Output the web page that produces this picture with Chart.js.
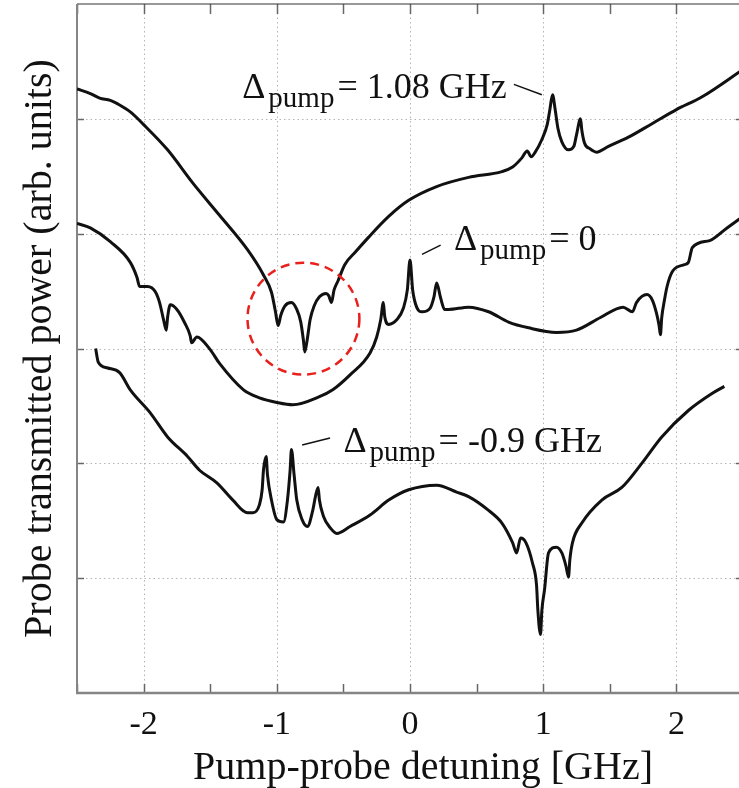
<!DOCTYPE html>
<html>
<head>
<meta charset="utf-8">
<script src="https://cdn.jsdelivr.net/npm/chart.js@4.4.1/dist/chart.umd.min.js"></script>
<style>
html, body { margin: 0; padding: 0; background: #fff; overflow: hidden; }
#wrap { width: 743px; height: 788px; }
</style>
</head>
<body>
<div id="wrap"><canvas id="chart" width="743" height="788"></canvas></div>
<script>
// 曲線資料 (x: 失諧 GHz, y: 任意單位)
// Δpump = 1.08 GHz
var xA = [-2.50, -2.40, -2.33, -2.25, -2.18, -2.10, -2.00, -1.82, -1.63, -1.43, -1.22, -1.10, -1.04, -1.01, -0.99, -0.97, -0.94, -0.89, -0.85, -0.82, -0.80, -0.79, -0.77, -0.75, -0.72, -0.68, -0.63, -0.61, -0.59, -0.57, -0.54, -0.49, -0.41, -0.31, -0.16, -0.01, 0.20, 0.44, 0.69, 0.77, 0.84, 0.88, 0.91, 0.94, 0.99, 1.03, 1.05, 1.07, 1.09, 1.11, 1.14, 1.19, 1.23, 1.25, 1.28, 1.29, 1.31, 1.35, 1.40, 1.49, 1.64, 1.82, 2.00, 2.19, 2.50];
var yA = [5.26, 5.22, 5.18, 5.16, 5.12, 5.06, 4.95, 4.73, 4.44, 4.16, 3.86, 3.64, 3.49, 3.32, 3.20, 3.29, 3.37, 3.40, 3.34, 3.23, 3.07, 2.97, 3.09, 3.25, 3.37, 3.45, 3.48, 3.46, 3.40, 3.51, 3.59, 3.73, 3.84, 3.97, 4.15, 4.29, 4.41, 4.49, 4.54, 4.58, 4.66, 4.72, 4.67, 4.71, 4.82, 4.95, 5.08, 5.21, 5.08, 4.92, 4.80, 4.73, 4.76, 4.86, 5.00, 4.90, 4.79, 4.74, 4.71, 4.76, 4.84, 4.96, 5.08, 5.19, 5.43];

// Δpump = 0
var xB = [-2.50, -2.40, -2.25, -2.10, -2.05, -2.03, -1.97, -1.91, -1.88, -1.85, -1.83, -1.82, -1.80, -1.75, -1.69, -1.65, -1.64, -1.60, -1.50, -1.43, -1.25, -1.13, -1.00, -0.88, -0.68, -0.58, -0.45, -0.30, -0.25, -0.22, -0.20, -0.19, -0.16, -0.10, -0.05, -0.02, 0.00, 0.02, 0.05, 0.09, 0.15, 0.18, 0.20, 0.23, 0.26, 0.29, 0.44, 0.59, 0.74, 0.89, 1.10, 1.25, 1.43, 1.60, 1.67, 1.70, 1.78, 1.82, 1.85, 1.87, 1.88, 1.89, 1.91, 1.93, 1.97, 2.06, 2.09, 2.12, 2.25, 2.38, 2.50];
var yB = [4.09, 4.05, 3.93, 3.75, 3.62, 3.54, 3.54, 3.49, 3.40, 3.25, 3.16, 3.27, 3.38, 3.34, 3.22, 3.11, 3.05, 3.10, 2.99, 2.87, 2.64, 2.57, 2.53, 2.51, 2.58, 2.64, 2.77, 2.96, 3.10, 3.25, 3.40, 3.28, 3.21, 3.25, 3.35, 3.51, 3.77, 3.51, 3.36, 3.32, 3.35, 3.45, 3.57, 3.44, 3.34, 3.34, 3.36, 3.32, 3.23, 3.18, 3.14, 3.16, 3.27, 3.36, 3.32, 3.40, 3.47, 3.42, 3.31, 3.20, 3.12, 3.27, 3.42, 3.54, 3.67, 3.73, 3.75, 3.88, 3.94, 4.05, 4.15];

// Δpump = -0.9 GHz
var xC = [-2.36, -2.34, -2.27, -2.18, -2.10, -1.95, -1.82, -1.67, -1.58, -1.45, -1.33, -1.22, -1.18, -1.13, -1.11, -1.10, -1.08, -1.07, -1.04, -1.00, -0.95, -0.92, -0.90, -0.89, -0.87, -0.85, -0.81, -0.77, -0.73, -0.71, -0.69, -0.68, -0.65, -0.60, -0.55, -0.45, -0.30, -0.16, -0.01, 0.20, 0.35, 0.44, 0.59, 0.69, 0.77, 0.80, 0.83, 0.87, 0.92, 0.95, 0.96, 0.98, 0.99, 1.01, 1.04, 1.10, 1.14, 1.17, 1.19, 1.20, 1.22, 1.29, 1.44, 1.59, 1.74, 1.89, 2.09, 2.27, 2.36];
var yC = [3.00, 2.88, 2.83, 2.79, 2.64, 2.44, 2.23, 2.06, 1.94, 1.83, 1.68, 1.57, 1.57, 1.64, 1.77, 1.94, 2.06, 1.90, 1.68, 1.51, 1.49, 1.68, 1.94, 2.12, 1.90, 1.68, 1.51, 1.45, 1.59, 1.71, 1.79, 1.68, 1.54, 1.44, 1.39, 1.45, 1.55, 1.68, 1.77, 1.81, 1.75, 1.71, 1.59, 1.48, 1.31, 1.22, 1.35, 1.31, 1.13, 0.94, 0.72, 0.51, 0.72, 0.90, 1.22, 1.27, 1.22, 1.11, 1.01, 1.16, 1.31, 1.48, 1.68, 1.79, 2.00, 2.23, 2.46, 2.61, 2.67];

var xTicks = [-2, -1, 0, 1, 2];
var yTicks = [1, 2, 3, 4, 5];

// 標註: Δ 的位置 (資料座標) 與引線
var labels = [
    { x: -1.26, y: 5.18, text: '= 1.08 GHz', line: [0.78, 5.30, 0.99, 5.21] },
    { x: 0.33, y: 3.86, text: '= 0', line: [0.09, 3.82, 0.23, 3.90] },
    { x: -0.50, y: 2.10, text: '= -0.9 GHz', line: [-0.81, 2.16, -0.60, 2.22] }
];
var circle = { x: -0.80, y: 3.26, r: 0.42 };

var SERIF = '"Liberation Serif", "Times New Roman", serif';

function toPoints(xs, ys) {
    return xs.map((x, i) => ({ x: x, y: ys[i] }));
}

function seg(ctx, x1, y1, x2, y2) {
    ctx.beginPath();
    ctx.moveTo(x1, y1);
    ctx.lineTo(x2, y2);
    ctx.stroke();
}

// 邊框、點狀格線、內側刻度
var framePlugin = {
    id: 'frame',
    beforeDatasetsDraw: function(chart) {
        var ctx = chart.ctx, a = chart.chartArea;
        var xs = chart.scales.x, ys = chart.scales.y;
        ctx.save();
        ctx.strokeStyle = '#b5b5b5';
        ctx.lineWidth = 1;
        ctx.setLineDash([1.5, 3]);
        xTicks.forEach(v => {
            var px = Math.round(xs.getPixelForValue(v)) + 0.5;
            seg(ctx, px, a.top, px, a.bottom);
        });
        yTicks.forEach(v => {
            var py = Math.round(ys.getPixelForValue(v)) + 0.5;
            seg(ctx, a.left, py, a.right, py);
        });
        ctx.setLineDash([]);

        // 內側刻度
        ctx.strokeStyle = '#666';
        ctx.lineWidth = 1.5;
        for (var v = xs.min; v <= xs.max + 1e-9; v += 0.5) {
            var px = Math.round(xs.getPixelForValue(v)) + 0.5;
            seg(ctx, px, a.bottom, px, a.bottom - 9);
            seg(ctx, px, a.top, px, a.top + 10);
        }
        yTicks.forEach(v => {
            var py = Math.round(ys.getPixelForValue(v)) + 0.5;
            seg(ctx, a.left, py, a.left + 7, py);
            seg(ctx, a.right, py, a.right - 7, py);
        });

        // 軸線
        ctx.strokeStyle = '#333';
        ctx.lineWidth = 1.2;
        seg(ctx, a.left, a.top, a.right, a.top);
        ctx.strokeStyle = '#858585';
        ctx.lineWidth = 2;
        seg(ctx, a.left, a.top, a.left, a.bottom + 1);
        ctx.lineWidth = 2.5;
        seg(ctx, a.left - 1, a.bottom, a.right, a.bottom);
        ctx.restore();
    },
    afterDatasetsDraw: function(chart) {
        var ctx = chart.ctx, a = chart.chartArea;
        var xs = chart.scales.x, ys = chart.scales.y;
        ctx.save();

        // 紅色虛線圓
        var cx = xs.getPixelForValue(circle.x), cy = ys.getPixelForValue(circle.y);
        var r = xs.getPixelForValue(circle.x + circle.r) - cx;
        ctx.strokeStyle = '#e8211d';
        ctx.lineWidth = 2.5;
        ctx.setLineDash([9, 6]);
        ctx.beginPath();
        ctx.arc(cx, cy, r, 0, Math.PI * 2);
        ctx.stroke();
        ctx.setLineDash([]);

        // 標註文字
        ctx.fillStyle = '#111';
        ctx.strokeStyle = '#111';
        ctx.lineWidth = 1.5;
        ctx.textBaseline = 'alphabetic';
        ctx.textAlign = 'left';
        labels.forEach(lb => {
            var px = xs.getPixelForValue(lb.x), py = ys.getPixelForValue(lb.y);
            ctx.font = '36px ' + SERIF;
            ctx.fillText('\u0394', px, py);
            var w1 = ctx.measureText('\u0394').width;
            ctx.font = '29px ' + SERIF;
            ctx.fillText('pump', px + w1 + 3, py + 9);
            var w2 = ctx.measureText('pump').width;
            ctx.font = '36px ' + SERIF;
            ctx.fillText(lb.text, px + w1 + w2 + 6, py);
            seg(ctx, xs.getPixelForValue(lb.line[0]), ys.getPixelForValue(lb.line[1]),
                xs.getPixelForValue(lb.line[2]), ys.getPixelForValue(lb.line[3]));
        });

        // 軸標題
        ctx.font = '40px ' + SERIF;
        ctx.textAlign = 'center';
        ctx.fillText('Pump-probe detuning [GHz]', (a.left + a.right) / 2 + 13, 779);
        ctx.translate(51, (a.top + a.bottom) / 2);
        ctx.rotate(-Math.PI / 2);
        ctx.fillText('Probe transmitted power (arb. units)', 0, 0);
        ctx.restore();
    }
};

var ctx = document.getElementById('chart').getContext('2d');
var lineStyle = { borderColor: '#111', borderWidth: 3, pointRadius: 0, cubicInterpolationMode: 'monotone', fill: false };

var chart = new Chart(ctx, {
    type: 'line',
    data: {
        datasets: [
            Object.assign({ label: 'Δpump = 1.08 GHz', data: toPoints(xA, yA) }, lineStyle),
            Object.assign({ label: 'Δpump = 0', data: toPoints(xB, yB) }, lineStyle),
            Object.assign({ label: 'Δpump = -0.9 GHz', data: toPoints(xC, yC) }, lineStyle)
        ]
    },
    options: {
        responsive: false,
        animation: false,
        layout: { padding: { top: 4, right: 0, left: 0, bottom: 0 } },
        plugins: { legend: { display: false }, tooltip: { enabled: false } },
        scales: {
            x: {
                type: 'linear',
                min: -2.5,
                max: 2.5,
                grid: { display: false },
                border: { display: false },
                afterBuildTicks: function(s) { s.ticks = xTicks.map(v => ({ value: v })); },
                afterFit: function(s) { s.height = 95; },
                ticks: {
                    font: { family: SERIF, size: 34 },
                    color: '#111',
                    padding: 4,
                    maxRotation: 0,
                    autoSkip: false,
                    callback: function(v) { return String(v); }
                }
            },
            y: {
                type: 'linear',
                min: 0,
                max: 6,
                grid: { display: false },
                border: { display: false },
                ticks: { display: false },
                afterFit: function(s) { s.width = 77; }
            }
        }
    },
    plugins: [framePlugin]
});
</script>
</body>
</html>
